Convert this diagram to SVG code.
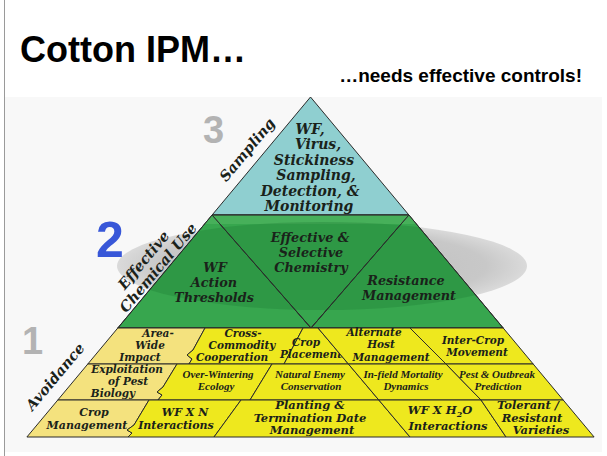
<svg xmlns="http://www.w3.org/2000/svg" width="607" height="456" viewBox="0 0 607 456">
<defs>
<style>
.t{font-family:"DejaVu Serif","Liberation Serif",serif;font-weight:bold;font-style:italic;fill:#1a221a;text-anchor:middle}
.c{font-family:"Liberation Serif",serif;font-weight:bold;font-style:italic;fill:#1a221a;text-anchor:middle;font-size:11px}
.cell{stroke:#2b2b2b;stroke-width:1;stroke-linejoin:round}
.teal{fill:#8fcfd0}
.grn{fill:#37a64e}
.ly{fill:#f4e27e}
.by{fill:#eee81e}
.num{font-family:"Liberation Sans",Arial,sans-serif;font-weight:bold}
</style>
<clipPath id="greenClip"><polygon points="212.1,215 408.9,215 503.2,328 117.8,328"/></clipPath>
<radialGradient id="shadow" cx="0.5" cy="0.5" r="0.5">
<stop offset="0" stop-color="#bdbdbd"/>
<stop offset="0.8" stop-color="#c8c8c8"/>
<stop offset="1" stop-color="#dadada"/>
</radialGradient>
</defs>
<rect width="607" height="456" fill="#ffffff"/>
<rect x="5" y="97" width="597" height="355" fill="#f8f8f8"/>
<line x1="4.5" y1="0" x2="4.5" y2="456" stroke="#9a9a9a" stroke-width="1"/>

<g id="title">
<text x="20" y="62" class="num" font-size="36" fill="#000">Cotton IPM…</text>
<text x="582" y="82" class="num" font-size="19" fill="#000" text-anchor="end">…needs effective controls!</text>
</g>

<ellipse cx="322" cy="266" rx="205" ry="44" fill="url(#shadow)"/>

<g id="tier3">
<polygon class="cell teal" points="310.5,97 408.9,215 212.1,215"/>
<text class="t" font-size="14"><tspan x="310" y="134">WF,</tspan><tspan x="318" y="149">Virus,</tspan><tspan x="314" y="165">Stickiness</tspan><tspan x="316" y="180">Sampling,</tspan><tspan x="310" y="196">Detection, &amp;</tspan><tspan x="309" y="211">Monitoring</tspan></text>
</g>

<g id="tier2">
<g id="wf-action">
<polygon class="cell grn" points="212.1,215 311,328 117.8,328"/>
</g>
<g id="effective-chem">
<polygon class="cell grn" points="212.1,215 408.9,215 311,328"/>
</g>
<g id="resistance">
<polygon class="cell grn" points="408.9,215 503.2,328 311,328"/>
</g>
<g clip-path="url(#greenClip)">
<rect x="110" y="215" width="400" height="9" fill="#52b862" opacity="0.6"/>
<ellipse cx="322" cy="266" rx="205" ry="44" fill="#1f7e36" opacity="0.35"/>
</g>
<g fill="none" stroke="#2b2b2b" stroke-width="1">
<polyline points="212.1,215 311,328 408.9,215"/>
<polygon points="212.1,215 408.9,215 503.2,328 117.8,328"/>
</g>
<text class="t" font-size="12.8"><tspan x="310" y="242">Effective &amp;</tspan><tspan x="311" y="257">Selective</tspan><tspan x="311" y="272">Chemistry</tspan></text>
<text class="t" font-size="12.8"><tspan x="215" y="272">WF</tspan><tspan x="214" y="287">Action</tspan><tspan x="214" y="302">Thresholds</tspan></text>
<text class="t" font-size="12.8"><tspan x="406" y="285">Resistance</tspan><tspan x="409" y="300">Management</tspan></text>
</g>

<g id="tier1">
<g id="area-wide">
<polygon class="cell ly" points="117.8,328 205,328 193,350 187,355 192,359 189,364 87.8,364"/>
<text class="t" font-size="10.5"><tspan x="158" y="337">Area-</tspan><tspan x="150" y="349">Wide</tspan><tspan x="140" y="361">Impact</tspan></text>
</g>
<g id="cross-commodity">
<polygon class="cell by" points="205,328 303,328 284,364 189,364 192,359 187,355 193,350"/>
<text class="t" font-size="10.5"><tspan x="243" y="337">Cross-</tspan><tspan x="242" y="349">Commodity</tspan><tspan x="232" y="361">Cooperation</tspan></text>
</g>
<g id="crop-placement">
<polygon class="cell by" points="303,328 318,328 348.4,364 284,364"/>
<text class="t" font-size="10.5"><tspan x="306" y="346">Crop</tspan><tspan x="311" y="358">Placement</tspan></text>
</g>
<g id="alternate-host">
<polygon class="cell by" points="318,328 410,328 446,364 348.4,364"/>
<text class="t" font-size="10.5"><tspan x="374" y="336">Alternate</tspan><tspan x="381" y="348">Host</tspan><tspan x="391" y="361">Management</tspan></text>
</g>
<g id="inter-crop">
<polygon class="cell by" points="410,328 503.2,328 533.2,364 446,364"/>
<text class="t" font-size="10.5"><tspan x="473" y="344">Inter-Crop</tspan><tspan x="477" y="356">Movement</tspan></text>
</g>

<g id="exploitation">
<polygon class="cell ly" points="87.8,364 177,364 163,387 157,392 162,395 158,400 57.8,400"/>
<text class="t" font-size="10.5"><tspan x="127" y="373">Exploitation</tspan><tspan x="128" y="385">of Pest</tspan><tspan x="113" y="397">Biology</tspan></text>
</g>
<g id="over-wintering">
<polygon class="cell by" points="177,364 272,364 250,400 158,400 162,395 157,392 163,387"/>
<text class="c"><tspan x="218" y="378">Over-Wintering</tspan><tspan x="216" y="390">Ecology</tspan></text>
</g>
<g id="natural-enemy">
<polygon class="cell by" points="272,364 348.4,364 378.8,400 250,400"/>
<text class="c"><tspan x="310" y="378">Natural Enemy</tspan><tspan x="311" y="390">Conservation</tspan></text>
</g>
<g id="in-field">
<polygon class="cell by" points="348.4,364 446,364 481,400 378.8,400"/>
<text class="c"><tspan x="403" y="378">In-field Mortality</tspan><tspan x="406" y="390">Dynamics</tspan></text>
</g>
<g id="pest-outbreak">
<polygon class="cell by" points="446,364 533.2,364 563.2,400 481,400"/>
<text class="c"><tspan x="497" y="378">Pest &amp; Outbreak</tspan><tspan x="498" y="390">Prediction</tspan></text>
</g>

<g id="crop-management">
<polygon class="cell ly" points="57.8,400 149,400 134,425 127,430 132,433 128,437 26.9,437"/>
<text class="t" font-size="11"><tspan x="94" y="416">Crop</tspan><tspan x="87" y="429">Management</tspan></text>
</g>
<g id="wf-x-n">
<polygon class="cell by" points="149,400 241,400 214,437 128,437 132,433 127,430 134,425"/>
<text class="t" font-size="11"><tspan x="185" y="416">WF X N</tspan><tspan x="176" y="429">Interactions</tspan></text>
</g>
<g id="planting">
<polygon class="cell by" points="241,400 378.8,400 410,437 214,437"/>
<text class="t" font-size="11.5"><tspan x="310" y="409">Planting &amp;</tspan><tspan x="310" y="421.5">Termination Date</tspan><tspan x="312" y="434">Management</tspan></text>
</g>
<g id="wf-x-h2o">
<polygon class="cell by" points="378.8,400 481,400 506,437 410,437"/>
<text class="t" font-size="11.5"><tspan x="440" y="414">WF X H<tspan font-size="8" dy="3">2</tspan><tspan dy="-3">O</tspan></tspan><tspan x="448" y="430">Interactions</tspan></text>
</g>
<g id="tolerant">
<polygon class="cell by" points="481,400 563.2,400 594.1,437 506,437"/>
<text class="t" font-size="11.5"><tspan x="528" y="409">Tolerant /</tspan><tspan x="532" y="421.5">Resistant</tspan><tspan x="541" y="434">Varieties</tspan></text>
</g>
</g>

<g id="side-labels">
<text class="num" x="203" y="143" font-size="38" fill="#b3b3b3">3</text>
<text class="num" x="96" y="257" font-size="50" fill="#3857d8">2</text>
<text class="num" x="22" y="354" font-size="38" fill="#b3b3b3">1</text>
<text class="t" font-size="14.5" transform="translate(251,153) rotate(-50)">Sampling</text>
<text class="t" font-size="14.5" transform="translate(147.5,263.4) rotate(-50)">Effective</text>
<text class="t" font-size="14.5" transform="translate(162,271) rotate(-50)">Chemical Use</text>
<text class="t" font-size="14.5" transform="translate(59,380) rotate(-50)">Avoidance</text>
</g>
<g id="connectors"/>
</svg>
